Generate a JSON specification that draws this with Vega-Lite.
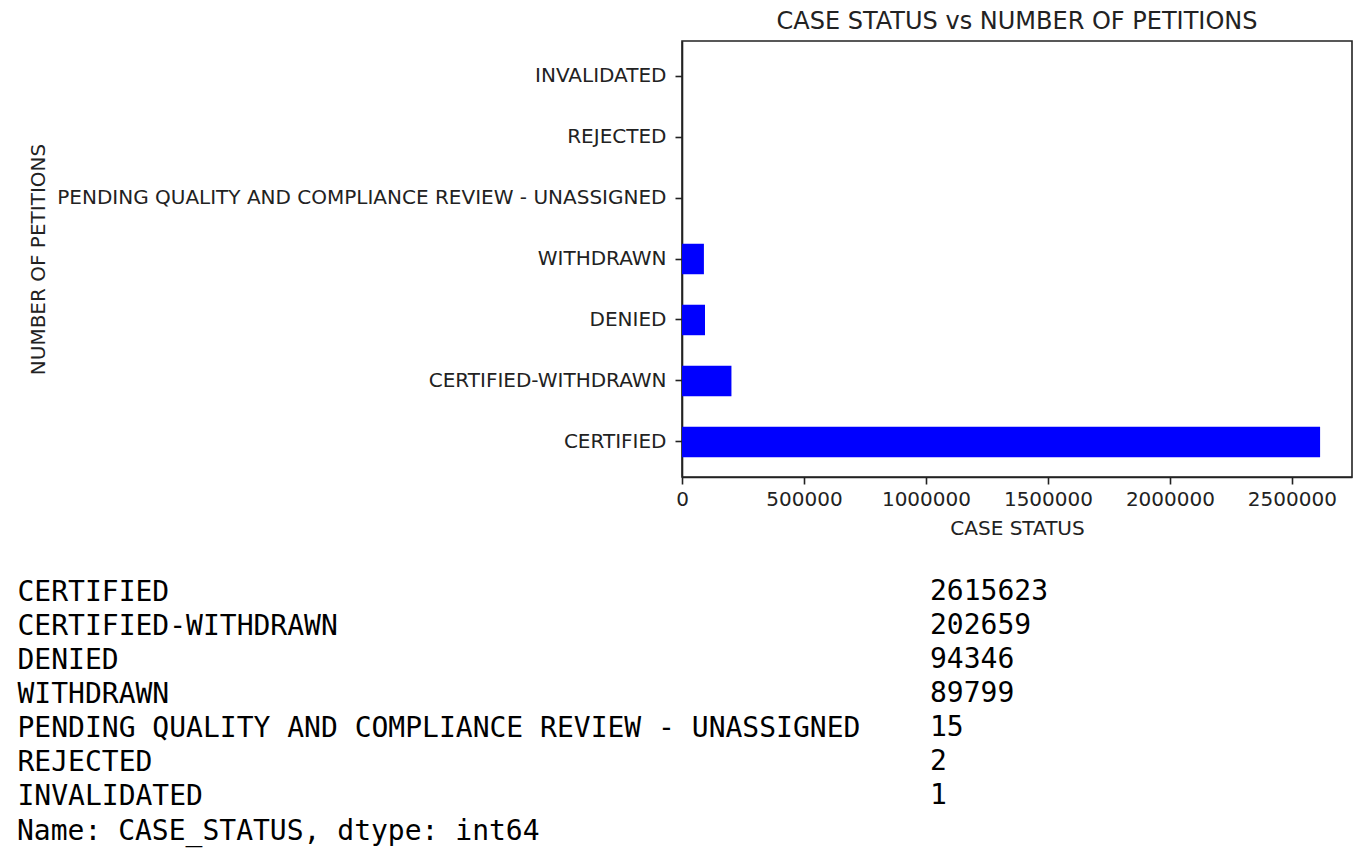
{
  "$schema": "https://vega.github.io/schema/vega-lite/v6.json",
  "padding": {"left": 17, "top": 9, "right": 5, "bottom": 5},
  "background": "white",
  "config": {"font": "DejaVu Sans", "axis": {"grid": false}, "view": {"stroke": null}},
  "datasets": {
    "petitions": [
      {"status": "CERTIFIED", "count": 2615623},
      {"status": "CERTIFIED-WITHDRAWN", "count": 202659},
      {"status": "DENIED", "count": 94346},
      {"status": "WITHDRAWN", "count": 89799},
      {"status": "PENDING QUALITY AND COMPLIANCE REVIEW - UNASSIGNED", "count": 15},
      {"status": "REJECTED", "count": 2},
      {"status": "INVALIDATED", "count": 1}
    ]
  },
  "spacing": 36,
  "vconcat": [
    {
      "width": 670,
      "height": 436,
      "view": {"stroke": "#222", "strokeWidth": 1.6},
      "title": {"text": "CASE STATUS vs NUMBER OF PETITIONS", "fontSize": 24, "fontWeight": "normal", "color": "#222", "offset": 7, "anchor": "middle", "font": "DejaVu Sans"},
      "data": {"name": "petitions"},
      "mark": {"type": "bar", "color": "#0000ff"},
      "encoding": {
        "x": {
          "field": "count", "type": "quantitative",
          "scale": {"domain": [0, 2746404], "nice": false, "zero": true},
          "axis": {"title": "CASE STATUS", "values": [0, 500000, 1000000, 1500000, 2000000, 2500000], "format": "d", "labelFontSize": 20, "labelColor": "#222", "labelFlush": false, "labelOverlap": false, "labelPadding": 5, "tickSize": 7, "tickWidth": 1.6, "tickColor": "#222", "domainColor": "#222", "domainWidth": 1.6, "titleFontSize": 20, "titleFontWeight": "normal", "titleColor": "#222", "titlePadding": 9}
        },
        "y": {
          "field": "status", "type": "nominal",
          "sort": {"field": "count", "op": "sum", "order": "ascending"},
          "scale": {"paddingInner": 0.5, "paddingOuter": 0.325},
          "axis": {"title": "NUMBER OF PETITIONS", "labelFontSize": 20, "labelColor": "#222", "labelLimit": 1000, "maxExtent": 900, "labelPadding": 9, "tickSize": 7, "tickWidth": 1.6, "tickColor": "#222", "domainColor": "#222", "domainWidth": 1.6, "titleFontSize": 20, "titleFontWeight": "normal", "titleColor": "#222", "titlePadding": 8}
        }
      }
    },
    {
      "width": 248,
      "height": 238,
      "data": {"name": "petitions"},
      "title": {"text": "Name: CASE_STATUS, dtype: int64", "orient": "bottom", "anchor": "start", "frame": "bounds", "font": "DejaVu Sans Mono", "fontSize": 28, "fontWeight": "normal", "color": "black", "offset": 5, "baseline": "top"},
      "mark": {"type": "text", "align": "left", "baseline": "middle", "font": "DejaVu Sans Mono", "fontSize": 28, "color": "black"},
      "encoding": {
        "y": {
          "field": "status", "type": "nominal",
          "sort": {"field": "count", "op": "sum", "order": "descending"},
          "scale": {"paddingInner": 0, "paddingOuter": 0},
          "axis": {"title": null, "orient": "left", "domain": false, "ticks": false, "tickSize": 0, "labelAlign": "left", "labelBaseline": "middle", "labelPadding": 665, "maxExtent": 900, "labelFont": "DejaVu Sans Mono", "labelFontSize": 28, "labelColor": "black", "labelLimit": 1000}
        },
        "x": {"datum": 1, "type": "quantitative", "scale": {"domain": [0, 1], "nice": false, "zero": false}, "axis": null},
        "text": {"field": "count", "type": "quantitative", "format": "d"}
      }
    }
  ]
}
